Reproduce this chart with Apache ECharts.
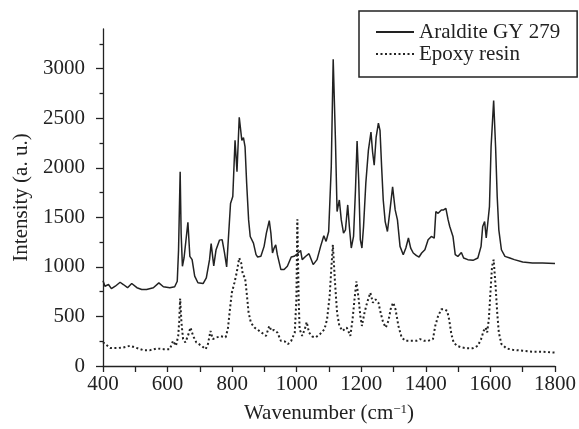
<!DOCTYPE html>
<html>
<head>
<meta charset="utf-8">
<script src="https://cdn.jsdelivr.net/npm/echarts@6/dist/echarts.min.js"></script>
<style>
  html, body { margin: 0; padding: 0; background: #fff; }
  #chart { width: 579px; height: 429px; }
</style>
</head>
<body>
<div id="chart"></div>
<script>
// Araldite GY 279 (solid)
const araldWn = [400, 406, 412, 417, 426, 438, 453, 463, 476, 489, 505, 520, 535, 556, 573, 587, 607, 622, 630, 634,
  639, 642, 646, 651, 656, 663, 669, 676, 684, 694, 710, 720, 730, 735, 743, 750, 761, 769, 776, 783,
  795, 802, 809, 815, 822, 830, 835, 840, 845, 851, 856, 861, 866, 874, 879, 889, 899, 906, 915, 920,
  925, 930, 935, 940, 951, 961, 971, 983, 992, 999, 1004, 1012, 1017, 1028, 1038, 1051, 1063, 1074, 1084, 1091,
  1099, 1107, 1113, 1120, 1125, 1132, 1138, 1145, 1151, 1158, 1163, 1169, 1176, 1182, 1187, 1192, 1197, 1202, 1207, 1214,
  1222, 1230, 1235, 1240, 1246, 1253, 1258, 1263, 1268, 1274, 1281, 1289, 1297, 1305, 1312, 1320, 1330, 1338, 1346, 1353,
  1361, 1371, 1379, 1387, 1397, 1407, 1417, 1426, 1431, 1438, 1448, 1455, 1462, 1469, 1474, 1479, 1484, 1491, 1499, 1510,
  1517, 1530, 1546, 1561, 1571, 1576, 1582, 1587, 1592, 1597, 1602, 1610, 1616, 1621, 1626, 1634, 1645, 1660, 1674, 1700,
  1730, 1761, 1800];
const araldInt = [860, 805, 815, 822, 780, 805, 845, 822, 790, 832, 790, 772, 772, 790, 838, 800, 790, 800, 855, 1170,
  1960, 1340, 1006, 1090, 1106, 1450, 1106, 1073, 906, 840, 832, 890, 1073, 1235, 1010, 1170, 1270, 1275, 1150, 1000,
  1640, 1710, 2277, 1960, 2510, 2277, 2303, 2210, 1842, 1474, 1307, 1324, 1240, 1123, 1100, 1107, 1207, 1341, 1467, 1341,
  1140, 1190, 1223, 1123, 973, 973, 1006, 1100, 1107, 1123, 1107, 1166, 1073, 1107, 1133, 1023, 1073, 1207, 1314, 1257,
  1357, 2009, 3095, 2277, 1558, 1675, 1474, 1341, 1374, 1625, 1407, 1190, 1307, 1775, 2270, 1876, 1274, 1190, 1407, 1842,
  2176, 2360, 2159, 2026, 2310, 2450, 2377, 2009, 1675, 1457, 1357, 1575, 1808, 1575, 1474, 1207, 1123, 1190, 1291, 1190,
  1140, 1113, 1100, 1140, 1173, 1274, 1307, 1290, 1558, 1540, 1575, 1575, 1591, 1474, 1407, 1424, 1307, 1123, 1106, 1146,
  1090, 1073, 1066, 1090, 1207, 1407, 1457, 1291, 1274, 1608, 2210, 2678, 2210, 1708, 1374, 1173, 1106, 1090, 1073, 1050,
  1040, 1040, 1033];

// Epoxy resin (dotted)
const epoxyWn = [400, 407, 422, 443, 463, 484, 505, 525, 546, 566, 587, 607, 617, 626, 633, 636, 639, 643, 648, 655,
  663, 671, 679, 689, 705, 718, 725, 733, 740, 751, 765, 780, 787, 792, 799, 807, 814, 822, 828, 833,
  840, 845, 851, 858, 869, 884, 905, 915, 922, 930, 940, 951, 963, 973, 983, 994, 999, 1002, 1006, 1009,
  1017, 1025, 1031, 1038, 1048, 1058, 1072, 1086, 1094, 1102, 1107, 1112, 1118, 1125, 1132, 1142, 1155, 1166, 1173, 1179,
  1185, 1192, 1197, 1202, 1210, 1218, 1228, 1236, 1244, 1253, 1261, 1268, 1276, 1284, 1292, 1299, 1306, 1315, 1325, 1337,
  1356, 1371, 1382, 1395, 1407, 1422, 1429, 1438, 1448, 1458, 1466, 1472, 1479, 1486, 1496, 1510, 1525, 1546, 1561, 1571,
  1579, 1585, 1590, 1595, 1600, 1605, 1610, 1616, 1621, 1626, 1634, 1650, 1669, 1700, 1730, 1761, 1800];
const epoxyInt = [240, 221, 181, 181, 187, 204, 181, 160, 160, 177, 170, 170, 254, 204, 304, 450, 680, 438, 271, 238,
  304, 388, 304, 238, 204, 170, 221, 354, 271, 288, 300, 290, 380, 538, 739, 839, 940, 1090, 1040, 923,
  890, 739, 538, 438, 388, 354, 304, 404, 354, 364, 338, 254, 248, 221, 254, 338, 672, 1480, 672, 371,
  304, 371, 444, 338, 298, 288, 321, 371, 471, 705, 973, 1223, 872, 538, 404, 354, 388, 304, 471, 672,
  855, 672, 505, 404, 538, 639, 739, 639, 672, 639, 522, 438, 388, 455, 589, 639, 572, 404, 288, 254,
  254, 254, 271, 254, 254, 271, 404, 505, 572, 572, 555, 471, 321, 238, 204, 188, 180, 180, 204, 271,
  354, 388, 338, 471, 739, 1006, 1073, 805, 538, 338, 221, 177, 164, 154, 144, 144, 135];

const xTickLabels = [400, 600, 800, 1000, 1200, 1400, 1600, 1800];
const yTickLabels = [0, 500, 1000, 1500, 2000, 2500, 3000];
const yMinorTicks = [250, 750, 1250, 1750, 2250, 2750, 3250];

const ink = '#222';
const serif = 'Liberation Serif';
const plain = (v) => String(v);

const chart = echarts.init(document.getElementById('chart'), null, { renderer: 'canvas' });

const yBase = {
  type: 'value',
  min: 0,
  max: 3400,
  position: 'left',
  splitLine: { show: false }
};

chart.setOption({
  animation: false,
  backgroundColor: '#fff',
  grid: { left: 103, right: 21, top: 29, bottom: 62 },
  legend: {
    orient: 'vertical',
    left: 359,
    top: 11,
    padding: [10, 17, 12, 16],
    itemGap: 0,
    itemWidth: 38,
    itemHeight: 2,
    itemTextGap: 2,
    borderColor: ink,
    borderWidth: 1.5,
    textStyle: { fontFamily: serif, fontSize: 21, color: ink, lineHeight: 22 },
    data: ['Araldite GY 279', 'Epoxy resin']
  },
  xAxis: {
    type: 'value',
    min: 400,
    max: 1800,
    interval: 100,
    name: 'Wavenumber (cm{sup|\u22121})',
    nameLocation: 'middle',
    nameGap: 37,
    nameTextStyle: {
      fontFamily: serif, fontSize: 21, color: ink,
      rich: { sup: { fontFamily: serif, fontSize: 13, color: ink, verticalAlign: 'top', padding: [0, 0, 8, 0] } }
    },
    axisLine: { lineStyle: { color: ink, width: 1.3 } },
    axisTick: { inside: false, length: 6, lineStyle: { color: ink, width: 1.3 } },
    axisLabel: { customValues: xTickLabels, formatter: plain, fontFamily: serif, fontSize: 21, color: ink, margin: 8 },
    splitLine: { show: false }
  },
  yAxis: [
    Object.assign({}, yBase, {
      name: 'Intensity (a. u.)',
      nameLocation: 'middle',
      nameGap: 66,
      nameTextStyle: { fontFamily: serif, fontSize: 21, color: ink },
      axisLine: { show: true, lineStyle: { color: ink, width: 1.3 } },
      axisTick: { show: true, customValues: yTickLabels, length: 7, lineStyle: { color: ink, width: 1.3 } },
      axisLabel: { customValues: yTickLabels, formatter: plain, fontFamily: serif, fontSize: 21, color: ink, margin: 18 }
    }),
    Object.assign({}, yBase, {
      axisLine: { show: false },
      axisTick: { show: true, customValues: yMinorTicks, length: 3.5, lineStyle: { color: ink, width: 1.3 } },
      axisLabel: { show: false }
    })
  ],
  series: [
    {
      name: 'Araldite GY 279',
      type: 'line',
      symbol: 'none',
      yAxisIndex: 0,
      lineStyle: { color: ink, width: 1.5 },
      itemStyle: { color: ink },
      data: araldWn.map((w, i) => [w, araldInt[i]])
    },
    {
      name: 'Epoxy resin',
      type: 'line',
      symbol: 'none',
      yAxisIndex: 0,
      lineStyle: { color: ink, width: 2, type: [2, 2.5] },
      itemStyle: { color: ink },
      data: epoxyWn.map((w, i) => [w, epoxyInt[i]])
    }
  ]
});
</script>
</body>
</html>
